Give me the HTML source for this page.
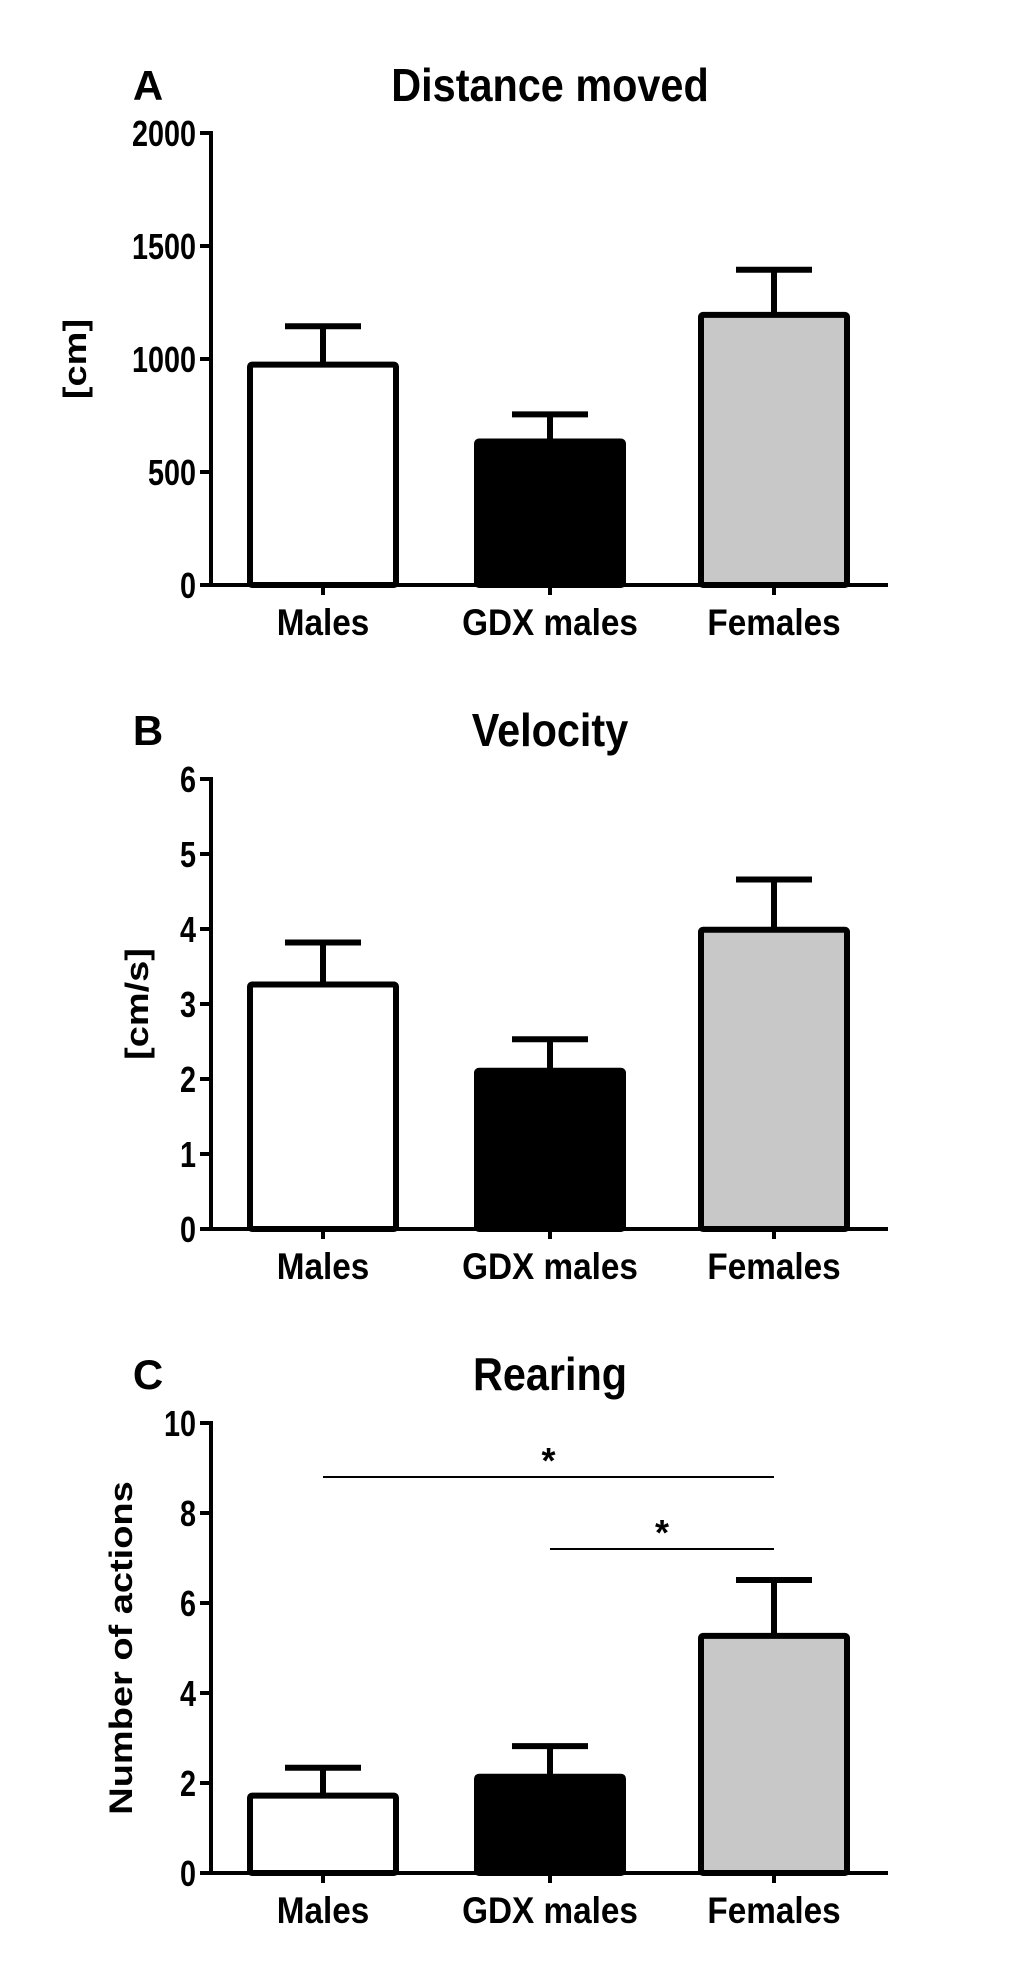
<!DOCTYPE html>
<html><head><meta charset="utf-8">
<style>
html,body{margin:0;padding:0;background:#fff;}
svg{display:block;}
text{font-family:"Liberation Sans",Arial,sans-serif;font-weight:bold;fill:#000;}
</style></head>
<body>
<svg id="fig" width="1020" height="1988" viewBox="0 0 1020 1988" xmlns="http://www.w3.org/2000/svg"></svg>
<script>
const categories = ["Males", "GDX males", "Females"];
const fills = ["#ffffff", "#000000", "#c8c8c8"];
const distanceMeans = [975, 635, 1195];
const distanceErrors = [170, 120, 200];
const distanceTicks = [0, 500, 1000, 1500, 2000];
const velocityMeans = [3.26, 2.11, 3.99];
const velocityErrors = [0.56, 0.42, 0.67];
const velocityTicks = [0, 1, 2, 3, 4, 5, 6];
const rearingMeans = [1.72, 2.14, 5.27];
const rearingErrors = [0.62, 0.68, 1.24];
const rearingTicks = [0, 2, 4, 6, 8, 10];
const rearingSig = [[0, 2, 8.8], [1, 2, 7.2]];

const NS = "http://www.w3.org/2000/svg";
const svg = document.getElementById("fig");
function mk(tag, attrs, parent) {
  const e = document.createElementNS(NS, tag);
  for (const k in attrs) e.setAttribute(k, attrs[k]);
  (parent || svg).appendChild(e);
  return e;
}
const AX = 211, AXR = 888;
const centers = [323, 550, 774];
const barW = 152;

function panel(cfg) {
  const g = mk("g", {});
  
  
  const y = v => cfg.y0 - (v - cfg.min) / (cfg.max - cfg.min) * (cfg.y0 - cfg.yTop);
  const x = i => centers[i];

  const letter = mk("text", {x: 148, y: cfg.titleY + 15, "font-size": 42, "text-anchor": "middle"}, g);
  letter.textContent = cfg.letter;
  
  
  const title = mk("text", {x: 0, y: 0, "font-size": 46, "text-anchor": "middle", transform: `translate(550,${cfg.titleY + 16}) scale(0.9,1)`}, g);
  title.textContent = cfg.title;
  
  

  cfg.means.forEach((m, i) => {
    const top = y(m), errTop = y(m + cfg.errs[i]);
    const eb = mk("path", {d: `M${x(i)} ${top} V${errTop} M${x(i)-38} ${errTop} H${x(i)+38}`, stroke: "#000", "stroke-width": 6, fill: "none"}, g);
    
    
    const r = mk("rect", {x: x(i) - barW/2 + 3, y: top, width: barW - 6, height: cfg.y0 - top, fill: fills[i], stroke: "#000", "stroke-width": 6, rx: 2}, g);
    
    
  });

  const yax = mk("line", {x1: AX, y1: cfg.yTop - 2, x2: AX, y2: cfg.y0 + 2, stroke: "#000", "stroke-width": 4}, g);
  
  
  const xax = mk("line", {x1: AX - 11, y1: cfg.y0, x2: AXR, y2: cfg.y0, stroke: "#000", "stroke-width": 4}, g);
  
  
  cfg.ticks.forEach(t => {
    const tl = mk("line", {x1: AX - 11, y1: y(t), x2: AX, y2: y(t), stroke: "#000", "stroke-width": 4}, g);
    
    
    const tx = mk("text", {x: 0, y: 0, "font-size": 36, "text-anchor": "end", transform: `translate(196,${y(t) + 13}) scale(0.8,1)`}, g);
    tx.textContent = t;
    
    
  });
  categories.forEach((c, i) => {
    const tl = mk("line", {x1: x(i), y1: cfg.y0, x2: x(i), y2: cfg.y0 + 10, stroke: "#000", "stroke-width": 4}, g);
    
    
    const tx = mk("text", {x: 0, y: 0, "font-size": 37, "text-anchor": "middle", transform: `translate(${x(i)},${cfg.y0 + 50}) scale(0.9,1)`}, g);
    tx.textContent = c;
    
    
  });
  const yl = mk("text", {x: 0, y: 0, "font-size": 38, "text-anchor": "middle", transform: `translate(${cfg.ylX},${(cfg.yTop + cfg.y0) / 2}) rotate(-90) scale(1,0.85)`}, g);
  yl.textContent = cfg.ylabel;
  
  

  (cfg.sig || []).forEach(s => {
    const ln = mk("line", {x1: x(s[0]), y1: y(s[2]), x2: x(s[1]), y2: y(s[2]), stroke: "#000", "stroke-width": 2}, g);
    
    
    const st = mk("text", {x: (x(s[0]) + x(s[1])) / 2, y: y(s[2]) - 4, "font-size": 36, "text-anchor": "middle"}, g);
    st.textContent = "*";
    
    
  });
}

panel({name: "distance", letter: "A", title: "Distance moved", titleY: 85, yTop: 133, y0: 585, min: 0, max: 2000,
  means: distanceMeans, errs: distanceErrors, ticks: distanceTicks, ylabel: "[cm]", ylX: 86});
panel({name: "velocity", letter: "B", title: "Velocity", titleY: 730, yTop: 779, y0: 1229, min: 0, max: 6,
  means: velocityMeans, errs: velocityErrors, ticks: velocityTicks, ylabel: "[cm/s]", ylX: 148});
panel({name: "rearing", letter: "C", title: "Rearing", titleY: 1374, yTop: 1423, y0: 1873, min: 0, max: 10,
  means: rearingMeans, errs: rearingErrors, ticks: rearingTicks, ylabel: "Number of actions", ylX: 132, sig: rearingSig});
</script>
</body></html>
